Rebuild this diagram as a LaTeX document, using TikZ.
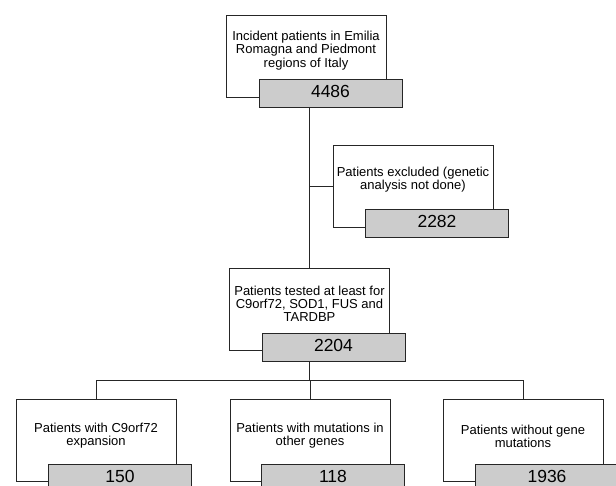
\documentclass[tikz,border=0pt]{standalone}
\usepackage{fontspec}
\setmainfont{Liberation Sans}
\usepackage{tikz}

\begin{document}
\begin{tikzpicture}[x=1pt, y=-1pt,
        wbox/.style={draw=black!85, line width=0.9pt, fill=white, minimum width=160pt, minimum height=82pt, inner sep=0pt},
        gbox/.style={draw=black!85, line width=0.9pt, fill=black!20, minimum width=143pt, minimum height=28pt, inner sep=0pt, text height=12.5pt, text depth=4pt, font=\fontsize{17.5}{20}\selectfont},
        txt/.style={align=center, inner sep=0pt, font=\fontsize{13}{13.2}\selectfont},
        link/.style={draw=black!85, line width=0.9pt}]
        \useasboundingbox (0,0) rectangle (616,486);

        \coordinate (bus) at (309,380);

        % boxes
        \node[wbox] (inc) at (306,56.5) {};
        \node[gbox] (incn) at (330.5,93) {4486};
        \node[wbox] (exc) at (413,186) {};
        \node[gbox] (excn) at (437,223) {2282};
        \node[wbox] (tst) at (309.5,309.5) {};
        \node[gbox] (tstn) at (333.5,347) {2204};
        \node[wbox] (c9) at (96,440) {};
        \node[gbox] (c9n) at (120,478) {150};
        \node[wbox] (oth) at (310,440) {};
        \node[gbox] (othn) at (333,478) {118};
        \node[wbox] (non) at (523,440) {};
        \node[gbox] (nonn) at (547,478) {1936};

        % texts
        \node[txt] (inct) at ([yshift=6pt]inc.center) {Incident patients in Emilia\\Romagna and Piedmont\\regions of Italy};
        \node[txt] (exct) at ([yshift=6pt]exc.center) {Patients excluded (genetic\\analysis not done)};
        \node[txt] (tstt) at ([yshift=6pt]tst.center) {Patients tested at least for\\C9orf72, SOD1, FUS and\\TARDBP};
        \node[txt] (c9t) at ([yshift=4pt]c9.center) {Patients with C9orf72\\expansion};
        \node[txt] (otht) at ([yshift=4pt]oth.center) {Patients with mutations in\\other genes};
        \node[txt] (nont) at ([yshift=4pt]non.center) {Patients without gene\\mutations};

        % connectors
        \draw[link] (tst.north |- incn.south) -- (tst.north);
        \draw[link] (exc.west) -- (exc.west -| tst.north);
        \draw[link] (bus |- tstn.south) -- (bus);
        \draw[link] (c9.north) -- (c9.north |- bus) -- (non.north |- bus) -- (non.north);
        \draw[link] (oth.north |- bus) -- (oth.north);
    \end{tikzpicture}
\end{document}
